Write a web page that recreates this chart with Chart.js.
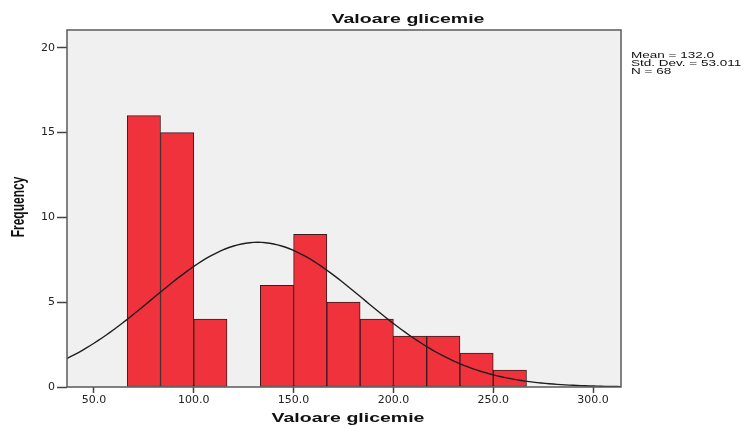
<!DOCTYPE html>
<html>
<head>
<meta charset="utf-8">
<script src="https://cdn.jsdelivr.net/npm/chart.js@4/dist/chart.umd.min.js"></script>
<style>
  body { margin: 0; background: #fff; }
</style>
</head>
<body>
<canvas id="histChart" width="749" height="427"></canvas>
<script>
// histogram bins (lower edges) and counts
var binStarts = [66.67, 83.33, 100, 116.67, 133.33, 150, 166.67, 183.33, 200, 216.67, 233.33, 250];
var binWidth = 16.67;
var counts = [16, 15, 4, 0, 6, 9, 5, 4, 3, 3, 2, 1];

// tick labels
var xTicks = [50, 100, 150, 200, 250, 300];
var yTicks = [0, 5, 10, 15, 20];

// statistics printed next to the chart
var mean = 132.0;
var stdDev = 53.011;
var n = 68;

var SX = 1.5; // text in the original is stretched horizontally

// normal curve fitted with the printed mean / sd
var curve = [];
for (var x = 30; x <= 320; x += 2) {
  var z = (x - mean) / stdDev;
  curve.push({ x: x, y: n * binWidth * Math.exp(-0.5 * z * z) / (stdDev * Math.sqrt(2 * Math.PI)) });
}

var bars = binStarts.map(function (s, i) {
  return { x: s + binWidth / 2, y: counts[i] > 0 ? counts[i] : null };
});

function stretchedText(ctx, text, x, y, font, align) {
  ctx.save();
  ctx.font = font;
  ctx.fillStyle = "#111";
  ctx.textAlign = align;
  ctx.textBaseline = "alphabetic";
  ctx.translate(x, y);
  ctx.scale(SX, 1);
  ctx.fillText(text, 0, 0);
  ctx.restore();
}

var spssLook = {
  id: "spssLook",
  beforeDraw: function (chart) {
    var a = chart.chartArea, ctx = chart.ctx;
    ctx.save();
    ctx.fillStyle = "#f0f0f0";
    ctx.fillRect(a.left, a.top, a.right - a.left, a.bottom - a.top);
    ctx.restore();
  },
  afterDraw: function (chart) {
    var a = chart.chartArea, ctx = chart.ctx;
    ctx.save();
    ctx.strokeStyle = "#5a5a5a";
    ctx.lineWidth = 1.5;
    ctx.strokeRect(a.left, a.top, a.right - a.left, a.bottom - a.top);
    ctx.restore();

    var bold = "bold 13px 'Liberation Sans', Arial, sans-serif";
    stretchedText(ctx, "Valoare glicemie", 408, 23, bold, "center");
    stretchedText(ctx, "Valoare glicemie", 348, 422, bold, "center");

    // y axis title, rotated
    ctx.save();
    ctx.font = "bold 12px 'Liberation Sans', Arial, sans-serif";
    ctx.fillStyle = "#111";
    ctx.textAlign = "center";
    ctx.textBaseline = "middle";
    ctx.translate(19, 207);
    ctx.scale(SX, 1);
    ctx.rotate(-Math.PI / 2);
    ctx.fillText("Frequency", 0, 0);
    ctx.restore();

    var small = "9px 'Liberation Sans', Arial, sans-serif";
    stretchedText(ctx, "Mean = " + mean.toFixed(1), 631, 58, small, "left");
    stretchedText(ctx, "Std. Dev. = " + stdDev.toFixed(3), 631, 66, small, "left");
    stretchedText(ctx, "N = " + n, 631, 74, small, "left");
  }
};

var ctx = document.getElementById("histChart").getContext("2d");
var histChart = new Chart(ctx, {
  type: "bar",
  data: {
    datasets: [
      {
        type: "line",
        data: curve,
        borderColor: "#1e1e1e",
        borderWidth: 1.4,
        pointRadius: 0,
        fill: false,
        tension: 0,
        order: 0,
      },
      {
        type: "bar",
        data: bars,
        backgroundColor: "#f0323c",
        borderColor: "#3a1c1c",
        borderWidth: 1,
        borderSkipped: false,
        barPercentage: 1,
        categoryPercentage: 1,
        order: 1,
      },
    ],
  },
  options: {
    responsive: false,
    animation: false,
    layout: { padding: { top: 30, right: 128, left: 0, bottom: 0 } },
    plugins: { legend: { display: false }, tooltip: { enabled: false } },
    scales: {
      x: {
        type: "linear",
        min: 36.5,
        max: 314,
        offset: false,
        afterBuildTicks: function (scale) {
          scale.ticks = xTicks.map(function (v) { return { value: v }; });
        },
        afterFit: function (scale) { scale.height = 40; },
        grid: { offset: false, drawOnChartArea: false, drawTicks: true, tickLength: 6, tickColor: "#444", tickWidth: 1.5 },
        border: { display: false },
        ticks: {
          maxRotation: 0,
          autoSkip: false,
          padding: 1,
          color: "#222",
          font: { family: "'DejaVu Sans', sans-serif", size: 11 },
          callback: function (v) { return v.toFixed(1); },
        },
      },
      y: {
        min: 0,
        max: 21.05,
        afterBuildTicks: function (scale) {
          scale.ticks = yTicks.map(function (v) { return { value: v }; });
        },
        afterFit: function (scale) { scale.width = 67; },
        grid: { drawOnChartArea: false, drawTicks: true, tickLength: 10, tickColor: "#444", tickWidth: 1.5 },
        border: { display: false },
        ticks: {
          padding: 2,
          color: "#222",
          font: { family: "'DejaVu Sans', sans-serif", size: 11 },
          callback: function (v) { return String(v); },
        },
      },
    },
  },
  plugins: [spssLook],
});
</script>
</body>
</html>
